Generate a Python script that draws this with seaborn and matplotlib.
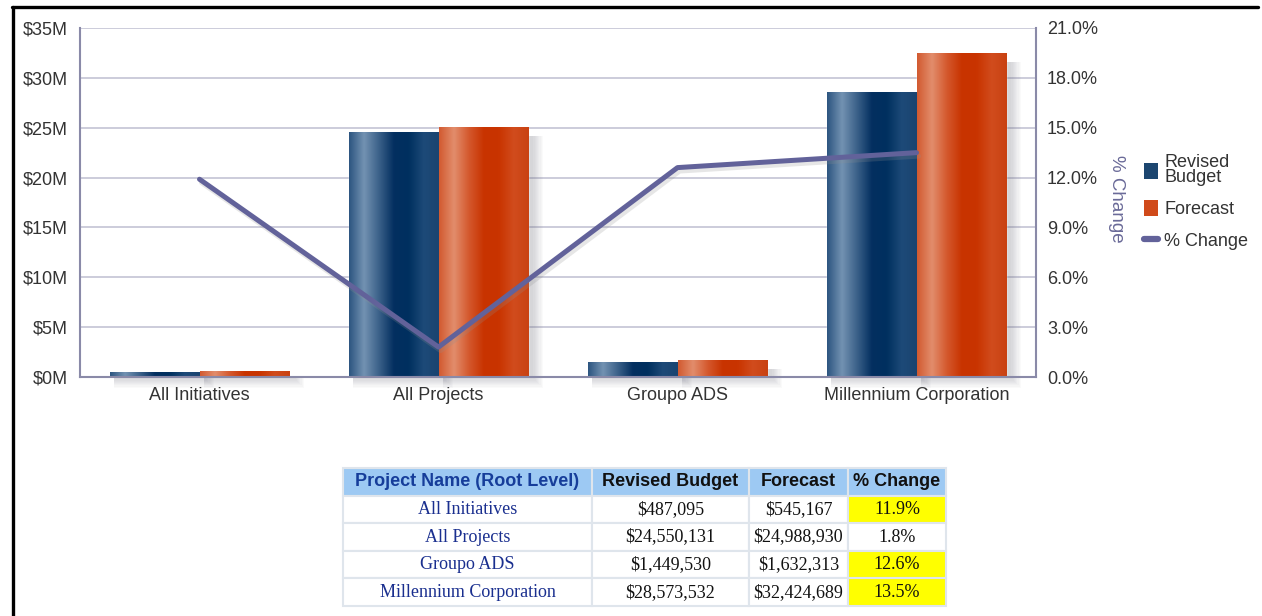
import numpy as np
import pandas as pd
import matplotlib
matplotlib.use("Agg")
import matplotlib.pyplot as plt
import matplotlib.patheffects as pe
from matplotlib.colors import LinearSegmentedColormap
from matplotlib.patches import Rectangle, Patch
from matplotlib.lines import Line2D
from matplotlib.ticker import FuncFormatter, MultipleLocator
import seaborn as sns

# DATA
projects = ["All Initiatives", "All Projects", "Groupo ADS", "Millennium Corporation"]
revised_budget = [487095, 24550131, 1449530, 28573532]
forecast = [545167, 24988930, 1632313, 32424689]
pct_change = [11.9, 1.8, 12.6, 13.5]

series_names = ["Revised Budget", "Forecast"]

df = pd.DataFrame({
    "Project": projects * 2,
    "Series": [series_names[0]] * 4 + [series_names[1]] * 4,
    "Value": revised_budget + forecast,
})

sns.set_style("white")
plt.rcParams["font.family"] = ["Liberation Sans", "DejaVu Sans"]

W, H = 1262, 616
fig = plt.figure(figsize=(W / 100, H / 100), dpi=100)

def px_axes(x0, y0, x1, y1):
    return [x0 / W, 1 - y1 / H, (x1 - x0) / W, (y1 - y0) / H]

ax = fig.add_axes(px_axes(80, 28, 1036, 377))

blue_cols = ["#2c5580", "#7392b2", "#3b6189", "#032f60", "#00305f", "#1d4a78", "#1a4470"]
orange_cols = ["#d25a30", "#e28d6c", "#d4582d", "#c83300", "#c93400", "#d14c1d", "#c94212"]
cmaps = {
    series_names[0]: LinearSegmentedColormap.from_list("bl", blue_cols),
    series_names[1]: LinearSegmentedColormap.from_list("or", orange_cols),
}

sns.barplot(data=df, x="Project", y="Value", hue="Series", order=projects,
            hue_order=series_names, palette=["#1c4670", "#d04a1a"],
            width=0.75, gap=0, ax=ax, legend=False, zorder=3)

ax.set_xlim(-0.5, 3.5)
ax.set_ylim(0, 35e6)

# soft shadows + gradients on bars
xpx = 4 / 956
ypx = 35e6 / 349
grad = np.linspace(0, 1, 256).reshape(1, -1)
bars = [p for p in ax.patches if p.get_width() > 0]
for p in bars:
    x0, w, h = p.get_x(), p.get_width(), p.get_height()
    for k in range(1, 10):
        ax.add_patch(Rectangle((x0 + 4 * xpx, -k * 1.2 * ypx), w + k * 1.2 * xpx,
                               max(h - 8 * ypx, 0) + k * 1.2 * ypx, facecolor="#6a6a7a",
                               edgecolor="none", alpha=0.03, zorder=2, clip_on=False))
for i, name in enumerate(series_names):
    for j in range(len(projects)):
        p = bars[i * len(projects) + j]
        x0, w, h = p.get_x(), p.get_width(), p.get_height()
        ax.imshow(grad, cmap=cmaps[name], aspect="auto", extent=(x0, x0 + w, 0, h),
                  zorder=4, interpolation="bicubic")

ax.set_xlim(-0.5, 3.5)
ax.set_ylim(0, 35e6)

ax.yaxis.set_major_locator(MultipleLocator(5e6))
ax.yaxis.set_major_formatter(FuncFormatter(lambda v, _: f"${v / 1e6:.0f}M"))
ax.grid(axis="y", color="#c8c8d8", lw=1.3, zorder=0)
ax.set_axisbelow(True)
ax.set_xlabel("")
ax.set_ylabel("")
ax.tick_params(axis="both", length=0, labelsize=13, colors="#333333")
ax.tick_params(axis="y", pad=9)
ax.tick_params(axis="x", pad=7)
for s in ["top", "right"]:
    ax.spines[s].set_visible(False)
for s in ["left", "bottom"]:
    ax.spines[s].set_color("#8a8aa8")
    ax.spines[s].set_linewidth(1.5)
ax.spines["bottom"].set_zorder(5)

# percent change line
ax2 = ax.twinx()
sns.lineplot(x=np.arange(len(projects)), y=pct_change, ax=ax2, color="#62629a", lw=3.6,
             zorder=6, path_effects=[pe.SimpleLineShadow(offset=(1.5, -2.5), shadow_color="#909090", alpha=0.22),
                                     pe.Normal()])
ax2.set_ylim(0, 21)
ax2.set_xlim(-0.5, 3.5)
ax2.yaxis.set_major_locator(MultipleLocator(3))
ax2.yaxis.set_major_formatter(FuncFormatter(lambda v, _: f"{v:.1f}%"))
ax2.tick_params(axis="y", length=0, labelsize=13, colors="#333333", pad=8)
for s in ["top", "left", "bottom"]:
    ax2.spines[s].set_visible(False)
ax2.spines["right"].set_color("#8a8aa8")
ax2.spines["right"].set_linewidth(1.5)
ax2.set_ylabel("% Change", rotation=270, fontsize=13.5, color="#6a6a98")
ax2.yaxis.set_label_coords(1.093, 0.51)

# legend
handles = [Patch(facecolor="#1c4670", edgecolor="none"),
           Patch(facecolor="#d04a1a", edgecolor="none"),
           Line2D([0], [0], color="#62629a", lw=4.5)]
leg = fig.legend(handles, ["Revised\nBudget", "Forecast", "% Change"], loc="upper left",
                 bbox_to_anchor=(1128 / W, 1 - 138 / H), frameon=False, fontsize=13,
                 handlelength=0.75, handleheight=1.0, handletextpad=0.35, labelspacing=0.75,
                 labelcolor="#333333")
for t in leg.get_texts():
    t.set_linespacing(0.85)

# table
tax = fig.add_axes(px_axes(343, 468, 946, 606))
tax.axis("off")
header = ["Project Name (Root Level)", "Revised Budget", "Forecast", "% Change"]
cells = [[p, f"${b:,.0f}", f"${f:,.0f}", f"{c:.1f}%"]
         for p, b, f, c in zip(projects, revised_budget, forecast, pct_change)]
col_w = np.array([249, 157, 99, 98]) / 603
tbl = tax.table(cellText=cells, colLabels=header, colWidths=col_w, bbox=[0, 0, 1, 1],
                cellLoc="center")
tbl.auto_set_font_size(False)
for (r, c), cell in tbl.get_celld().items():
    cell.set_edgecolor("#dfe5ec")
    cell.set_linewidth(1.5)
    cell.PAD = 0.01
    txt = cell.get_text()
    if r == 0:
        cell.set_facecolor("#9dc9f3")
        txt.set_fontweight("bold")
        txt.set_fontsize(13)
        txt.set_color("#163d9a" if c == 0 else "#111111")
    else:
        txt.set_family(["Liberation Serif", "DejaVu Serif"])
        txt.set_fontsize(13)
        txt.set_color("#1a2f8f" if c == 0 else "#111111")
        if c == 3 and pct_change[r - 1] > 10:
            cell.set_facecolor("#ffff00")
        else:
            cell.set_facecolor("white")

# frame lines of the page
fig.add_artist(Line2D([12 / W, 1258 / W], [1 - 7 / H, 1 - 7 / H], color="black", lw=2.4))
fig.add_artist(Line2D([12.5 / W, 12.5 / W], [0, 1 - 7 / H], color="black", lw=2.4))

fig.savefig("out.png", dpi=100, facecolor="white")
